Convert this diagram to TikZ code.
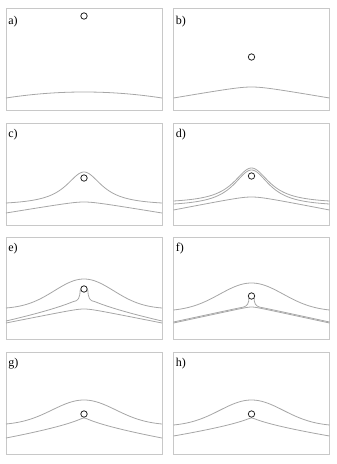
\documentclass[tikz,border=0pt]{standalone}
\usepackage{fontspec}
\setmainfont{Liberation Serif}
\usepackage{xcolor}
\definecolor{framegray}{HTML}{C8C8C8}
\definecolor{linegray}{HTML}{A6A6A6}
\definecolor{ballc}{HTML}{262626}

\begin{document}
\begin{tikzpicture}[
  x=0.75pt, y=-0.75pt,
  declare function={
    lor(\xx,\ee,\pp,\ww)=\ee-(\ee-\pp)*(1/(1+(\xx/\ww)*(\xx/\ww))-1/(1+(78/\ww)*(78/\ww)))/(1-1/(1+(78/\ww)*(78/\ww)));
    gau(\xx,\ee,\pp,\ww)=\ee-(\ee-\pp)*(exp(-(\xx/\ww)*(\xx/\ww))-exp(-(78/\ww)*(78/\ww)))/(1-exp(-(78/\ww)*(78/\ww)));
    ridge(\xx,\ee,\pp,\cc)=\pp+(\ee-\pp)*(sqrt(\xx*\xx+\cc*\cc)-\cc)/(sqrt(78*78+\cc*\cc)-\cc);
    cusp(\xx,\ee,\pp,\cc)=\pp+(\ee-\pp)*(pow(\xx*\xx+\cc*\cc,0.35)-pow(\cc*\cc,0.35))/(pow(78*78+\cc*\cc,0.35)-pow(\cc*\cc,0.35));
  },
  panel/.style={draw=framegray, line width=0.6pt},
  surf/.style={draw=linegray, line width=0.6pt, samples=121},
  ball/.style={circle, draw=ballc, fill=white, line width=0.6pt, minimum size=4.8pt, inner sep=0pt},
  tag/.style={anchor=base west, inner sep=0pt, font=\fontsize{9}{10}\selectfont},
]
\useasboundingbox (0,0) rectangle (336,464);

% a) flat film, particle far above
\begin{scope}[shift={(84,8)}]
  \draw[panel] (-78,0) rectangle (78,102);
  \node[tag] (la) at (-76,16) {a)};
  \draw[surf] plot[domain=-78:78] (\x,{84+6*(\x/78)*(\x/78)});
  \node[ball] (pa) at (0,8) {};
\end{scope}

% b)
\begin{scope}[shift={(251.5,8)}]
  \draw[panel] (-78,0) rectangle (78,102);
  \node[tag] (lb) at (-76,16) {b)};
  \draw[surf] plot[domain=-78:78] (\x,{ridge(\x,90,79,15)});
  \node[ball] (pb) at (0,49) {};
\end{scope}

% c)
\begin{scope}[shift={(84,123)}]
  \draw[panel] (-78,0) rectangle (78,102);
  \node[tag] (lc) at (-76,14) {c)};
  \draw[surf] plot[domain=-78:78] (\x,{lor(\x,80,49,22)});
  \draw[surf] plot[domain=-78:78] (\x,{ridge(\x,90,79,12)});
  \node[ball] (pc) at (0,55) {};
\end{scope}

% d)
\begin{scope}[shift={(251.5,123)}]
  \draw[panel] (-78,0) rectangle (78,102);
  \node[tag] (ld) at (-76,14) {d)};
  \draw[surf] plot[domain=-78:78] (\x,{lor(\x,78,45,22)});
  \draw[surf] plot[domain=-78:78] (\x,{lor(\x,81,47,22)});
  \draw[surf] plot[domain=-78:78] (\x,{ridge(\x,87,74,12)});
  \node[ball] (pd) at (0,53) {};
\end{scope}

% e)
\begin{scope}[shift={(84,237)}]
  \draw[panel] (-78,0) rectangle (78,102);
  \node[tag] (le) at (-76,14) {e)};
  \draw[surf] plot[domain=-78:78] (\x,{gau(\x,71,42,42)});
  \draw[surf] plot[domain=-78:78] (\x,{ridge(\x,86,72,8)});
  \draw[surf] plot[domain=-78:-11] (\x,{cusp(\x,84,60,2)})
    .. controls (-5.5,64) and (-4.2,61) .. (-3.8,53) -- (3.8,53)
    .. controls (4.2,61) and (5.5,64) .. (11,{cusp(11,84,60,2)})
    -- plot[domain=11:78] (\x,{cusp(\x,84,60,2)});
  \node[ball] (pe) at (0,52) {};
\end{scope}

% f)
\begin{scope}[shift={(251.5,237)}]
  \draw[panel] (-78,0) rectangle (78,102);
  \node[tag] (lf) at (-76,14) {f)};
  \draw[surf] plot[domain=-78:78] (\x,{gau(\x,73,46,45)});
  \draw[surf] plot[domain=-78:78] (\x,{ridge(\x,86,70,4)});
  \draw[surf] plot[domain=-78:-8] (\x,{ridge(\x,85,69,4)})
    .. controls (-4,69) and (-2.6,66) .. (-2.6,61) -- (2.6,61)
    .. controls (2.6,66) and (4,69) .. (8,{ridge(8,85,69,4)})
    -- plot[domain=8:78] (\x,{ridge(\x,85,69,4)});
  \node[ball] (pf) at (0,59) {};
\end{scope}

% g)
\begin{scope}[shift={(84,352)}]
  \draw[panel] (-78,0) rectangle (78,102);
  \node[tag] (lg) at (-76,14) {g)};
  \draw[surf] plot[domain=-78:78] (\x,{gau(\x,72,48,45)});
  \draw[surf] plot[domain=-78:78] (\x,{cusp(\x,86,66,2)});
  \node[ball] (pg) at (0,62) {};
\end{scope}

% h)
\begin{scope}[shift={(251.5,352)}]
  \draw[panel] (-78,0) rectangle (78,102);
  \node[tag] (lh) at (-76,14) {h)};
  \draw[surf] plot[domain=-78:78] (\x,{gau(\x,73,48,45)});
  \draw[surf] plot[domain=-78:78] (\x,{cusp(\x,84,66,2)});
  \node[ball] (ph) at (0,62) {};
\end{scope}

\end{tikzpicture}
\end{document}
